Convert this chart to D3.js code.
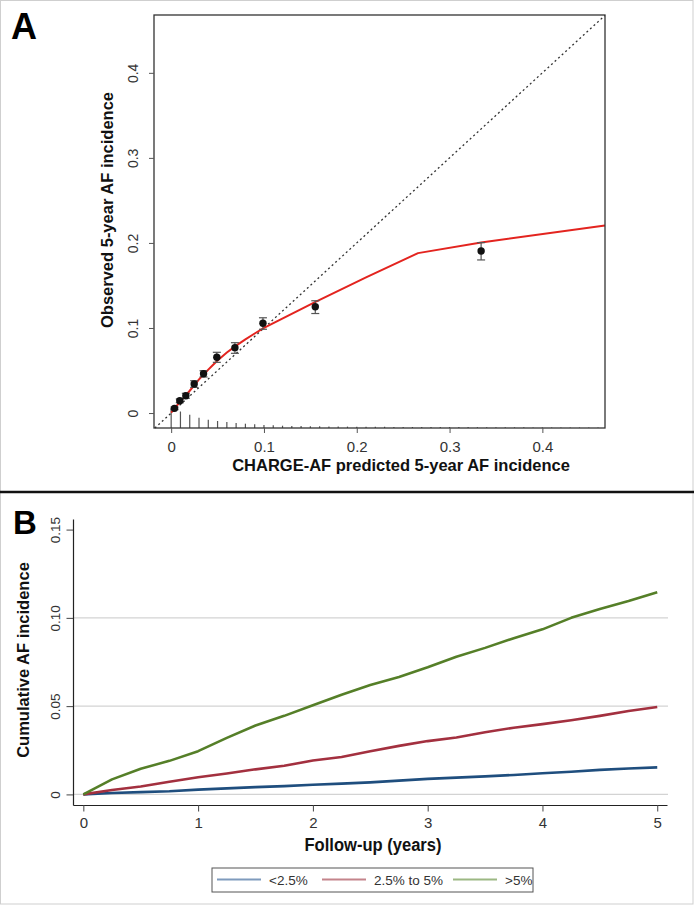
<!DOCTYPE html>
<html>
<head>
<meta charset="utf-8">
<script src="https://cdn.jsdelivr.net/npm/d3@7"></script>
<style>
  body { margin: 0; background: #fff; }
  svg { display: block; font-family: "Liberation Sans", Arial, sans-serif; }
</style>
</head>
<body>
<script>
// Panel A: calibration points (predicted vs observed, with CI)
var predicted = [0.0036, 0.0093, 0.0158, 0.0248, 0.0349, 0.0492, 0.0687, 0.0989, 0.1553, 0.334];
var observed  = [0.0055, 0.0145, 0.0204, 0.0341, 0.0462, 0.0655, 0.0769, 0.1055, 0.125, 0.1906];
var ciLow     = [0.004, 0.0121, 0.0173, 0.0302, 0.0424, 0.0596, 0.0702, 0.0985, 0.117, 0.180];
var ciHigh    = [0.007, 0.0165, 0.0232, 0.038, 0.0498, 0.0714, 0.0827, 0.112, 0.132, 0.2004];

// smoothed calibration curve
var smoothX = [0, 0.005, 0.01, 0.015, 0.02, 0.025, 0.03, 0.035, 0.04, 0.045, 0.05, 0.06, 0.07, 0.08, 0.09, 0.1, 0.155, 0.21, 0.266, 0.334, 0.4675];
var smoothY = [0.0005, 0.0072, 0.0137, 0.0199, 0.0262, 0.0328, 0.0395, 0.0453, 0.051, 0.0565, 0.0618, 0.0712, 0.0793, 0.0866, 0.0935, 0.1, 0.1305, 0.1595, 0.188, 0.2005, 0.2205];

// distribution of predicted risk (spike plot, relative frequency)
var spikeX = d3.range(0, 0.465, 0.01);
var spikeFreq = [20, 16.5, 13.3, 10.3, 8.3, 7, 6, 5, 4.3, 3.7, 3, 2.7, 2.3, 2, 2, 1.7, 1.7, 1.5, 1.5, 1.4,
                 1.3, 1.3, 1.2, 1.2, 1.1, 1.1, 1, 1, 1, 1, 0.9, 0.9, 0.9, 0.8, 0.8, 0.8, 0.7, 0.7, 0.7, 0.6,
                 0.6, 0.6, 0.5, 0.5, 0.5, 0.5, 0.5];

var ticksA = [0, 0.1, 0.2, 0.3, 0.4];

// Panel B: cumulative incidence by risk group
var years = [0, 0.25, 0.5, 0.75, 1, 1.25, 1.5, 1.75, 2, 2.25, 2.5, 2.75, 3, 3.25, 3.5, 3.75, 4, 4.25, 4.5, 4.75, 5];
var lowRisk  = [0, 0.0008, 0.0013, 0.0018, 0.0027, 0.0034, 0.0041, 0.0047, 0.0055, 0.0061, 0.0068, 0.0078, 0.0088, 0.0095, 0.0102, 0.011, 0.012, 0.0128, 0.0139, 0.0147, 0.0153];
var midRisk  = [0, 0.0025, 0.0045, 0.0072, 0.0097, 0.0118, 0.0142, 0.0162, 0.0192, 0.0212, 0.0245, 0.0275, 0.0302, 0.0322, 0.0352, 0.0378, 0.0398, 0.042, 0.0445, 0.0472, 0.0495];
var highRisk = [0, 0.0085, 0.0145, 0.019, 0.0245, 0.032, 0.039, 0.0445, 0.0505, 0.0565, 0.062, 0.0665, 0.072, 0.078, 0.083, 0.0885, 0.0935, 0.1, 0.105, 0.1095, 0.1145];
var groupNames = ["<2.5%", "2.5% to 5%", ">5%"];
var groupColors = ["#1f4e7e", "#a3303f", "#557f28"];
var legendColors = ["#7f9bbd", "#c4848b", "#9cb883"];

var ticksBy = [0, 0.05, 0.10, 0.15];
var gridB = [0, 0.05, 0.10];
var ticksBx = [0, 1, 2, 3, 4, 5];

var W = 694, H = 905;
var svg = d3.select("body").append("svg").attr("width", W).attr("height", H);

svg.append("rect").attr("x", 0.5).attr("y", 0.5).attr("width", W - 1.5).attr("height", H - 1.5)
  .attr("fill", "#fff").attr("stroke", "#cfcfcf");

// ---------- Panel A ----------
var xA = d3.scaleLinear().domain([-0.0185, 0.4675]).range([154, 605]);
var yA = d3.scaleLinear().domain([-0.0176, 0.468]).range([428, 15]);

svg.append("text").attr("x", 11).attr("y", 39)
  .style("font-size", "36px").style("font-weight", "bold").text("A");

// spikes
var hSpike = d3.scaleLinear().domain([0, 20]).range([0, 20]);
svg.append("g").selectAll("line").data(spikeX).join("line")
  .attr("x1", d => xA(d)).attr("x2", d => xA(d))
  .attr("y1", yA.range()[0])
  .attr("y2", (d, i) => yA.range()[0] - hSpike(spikeFreq[i]))
  .attr("stroke", "#555").attr("stroke-width", 1.2);

// diagonal reference
svg.append("line")
  .attr("x1", xA(-0.0176)).attr("y1", yA(-0.0176))
  .attr("x2", xA(0.4675)).attr("y2", yA(0.4675))
  .attr("stroke", "#333").attr("stroke-width", 1.3).attr("stroke-dasharray", "2,2.8");

// smoothed curve
var lineA = d3.line().x(d => xA(d[0])).y(d => yA(d[1]));
svg.append("path").datum(d3.zip(smoothX, smoothY))
  .attr("d", lineA).attr("fill", "none").attr("stroke", "#e3241f").attr("stroke-width", 2)
  .attr("stroke-linejoin", "round");

// error bars + points
var gp = svg.append("g");
predicted.forEach(function (p, i) {
  gp.append("line").attr("x1", xA(p)).attr("x2", xA(p)).attr("y1", yA(ciLow[i])).attr("y2", yA(ciHigh[i]))
    .attr("stroke", "#555").attr("stroke-width", 1.2);
  [ciLow[i], ciHigh[i]].forEach(function (v) {
    gp.append("line").attr("x1", xA(p) - 4).attr("x2", xA(p) + 4).attr("y1", yA(v)).attr("y2", yA(v))
      .attr("stroke", "#555").attr("stroke-width", 1.2);
  });
});
gp.selectAll("circle").data(predicted).join("circle")
  .attr("cx", d => xA(d)).attr("cy", (d, i) => yA(observed[i])).attr("r", 3.7).attr("fill", "#111");

// frame
svg.append("rect").attr("x", 154).attr("y", 15).attr("width", 451).attr("height", 413)
  .attr("fill", "none").attr("stroke", "#333").attr("stroke-width", 1.3);

var fmtA = d => d === 0 ? "0" : d3.format(".1f")(d);
var axAx = svg.append("g").attr("transform", "translate(0,428)")
  .call(d3.axisBottom(xA).tickValues(ticksA).tickFormat(fmtA).tickSize(5).tickSizeOuter(0));
axAx.select(".domain").remove();
axAx.selectAll("line").attr("stroke", "#555");
axAx.selectAll("text").attr("y", 0).attr("dy", "23.5px").attr("fill", "#333").style("font-size", "15px");

var axAy = svg.append("g").attr("transform", "translate(154,0)")
  .call(d3.axisLeft(yA).tickValues(ticksA).tickFormat(fmtA).tickSize(5).tickSizeOuter(0));
axAy.select(".domain").remove();
axAy.selectAll("line").attr("stroke", "#555");
axAy.selectAll("text").attr("transform", "rotate(-90)").attr("x", 0).attr("y", -16.5).attr("dy", 0)
  .attr("text-anchor", "middle").attr("fill", "#333").style("font-size", "14px");

svg.append("text").attr("x", 401).attr("y", 471).attr("text-anchor", "middle")
  .style("font-size", "16.5px").style("font-weight", "bold").attr("fill", "#111")
  .text("CHARGE-AF predicted 5-year AF incidence");
svg.append("text").attr("transform", "translate(113,210) rotate(-90)").attr("text-anchor", "middle")
  .style("font-size", "16.5px").style("font-weight", "bold").attr("fill", "#111")
  .text("Observed 5-year AF incidence");

// separator
svg.append("line").attr("x1", 0).attr("x2", W).attr("y1", 492).attr("y2", 492)
  .attr("stroke", "#111").attr("stroke-width", 2.5);

// ---------- Panel B ----------
var xB = d3.scaleLinear().domain([-0.09, 5.085]).range([73, 667]);
var yB = d3.scaleLinear().domain([-0.006, 0.156]).range([805, 519]);

svg.append("text").attr("x", 13).attr("y", 534)
  .style("font-size", "33px").style("font-weight", "bold").text("B");

svg.append("g").selectAll("line").data(gridB).join("line")
  .attr("x1", 73).attr("x2", 668).attr("y1", d => yB(d)).attr("y2", d => yB(d))
  .attr("stroke", "#d3d3d3").attr("stroke-width", 1.2);

var series = [lowRisk, midRisk, highRisk];
var lineB = d3.line().x(d => xB(d[0])).y(d => yB(d[1]));
series.forEach(function (s, i) {
  svg.append("path").datum(d3.zip(years, s)).attr("d", lineB)
    .attr("fill", "none").attr("stroke", groupColors[i]).attr("stroke-width", 2.6)
    .attr("stroke-linejoin", "round");
});

var axBx = svg.append("g").attr("transform", "translate(0,805)")
  .call(d3.axisBottom(xB).tickValues(ticksBx).tickFormat(d3.format("d")).tickSize(6.5).tickSizeOuter(0));
axBx.select(".domain").attr("stroke", "#222").attr("stroke-width", 1.2);
axBx.selectAll(".tick line").attr("stroke", "#444");
axBx.selectAll("text").attr("y", 0).attr("dy", "22.5px").attr("fill", "#333").style("font-size", "15px");

var fmtB = d => d === 0 ? "0" : d3.format(".2f")(d);
var axBy = svg.append("g").attr("transform", "translate(73,0)")
  .call(d3.axisLeft(yB).tickValues(ticksBy).tickFormat(fmtB).tickSize(6.5).tickSizeOuter(0));
axBy.select(".domain").attr("stroke", "#222").attr("stroke-width", 1.2);
axBy.selectAll(".tick line").attr("stroke", "#444");
axBy.selectAll("text").attr("transform", "rotate(-90)").attr("x", 0).attr("y", -13.5).attr("dy", 0)
  .attr("text-anchor", "middle").attr("fill", "#333").style("font-size", "13.5px");

svg.append("text").attr("x", 373).attr("y", 851).attr("text-anchor", "middle")
  .style("font-size", "17.5px").style("font-weight", "bold").attr("fill", "#111")
  .attr("textLength", 137).attr("lengthAdjust", "spacingAndGlyphs")
  .text("Follow-up (years)");
svg.append("text").attr("transform", "translate(29,660) rotate(-90)").attr("text-anchor", "middle")
  .style("font-size", "16.5px").style("font-weight", "bold").attr("fill", "#111")
  .text("Cumulative AF incidence");

// legend
var lg = svg.append("g");
lg.append("rect").attr("x", 212).attr("y", 868).attr("width", 321).attr("height", 24)
  .attr("fill", "#fff").attr("stroke", "#555").attr("stroke-width", 1);
var legX = [217, 322, 453];
var legW = [44, 44, 44];
groupNames.forEach(function (n, i) {
  lg.append("line").attr("x1", legX[i]).attr("x2", legX[i] + legW[i]).attr("y1", 879.5).attr("y2", 879.5)
    .attr("stroke", legendColors[i]).attr("stroke-width", 2);
  lg.append("text").attr("x", legX[i] + legW[i] + 8).attr("y", 884.5)
    .style("font-size", "13.5px").attr("fill", "#333").text(n);
});
</script>
</body>
</html>
